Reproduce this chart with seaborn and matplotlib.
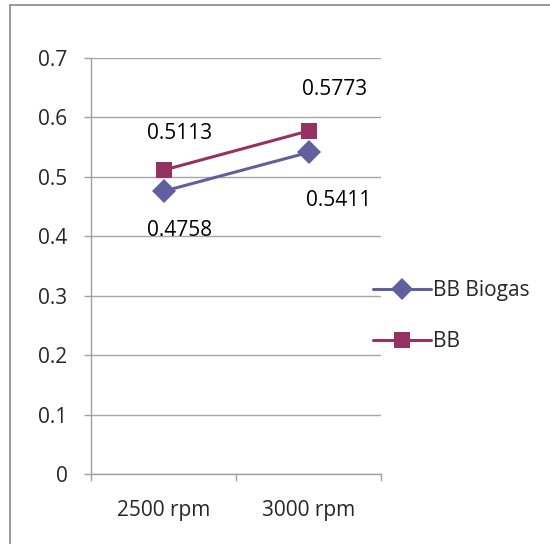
import matplotlib
matplotlib.use("Agg")
import matplotlib.pyplot as plt
import seaborn as sns
import pandas as pd
from matplotlib.lines import Line2D

categories = ["2500 rpm", "3000 rpm"]
bb_biogas = [0.4758, 0.5411]
bb = [0.5113, 0.5773]
series_names = ["BB Biogas", "BB"]
y_ticks = [0, 0.1, 0.2, 0.3, 0.4, 0.5, 0.6, 0.7]

df = pd.DataFrame({
    "rpm": categories * 2,
    "value": bb_biogas + bb,
    "series": [series_names[0]] * 2 + [series_names[1]] * 2,
})

sns.set_theme(style="white")
plt.rcParams['font.family'] = ['Open Sans', 'DejaVu Sans']

colors = {"BB Biogas": "#60609E", "BB": "#953262"}
markers = {"BB Biogas": "D", "BB": "s"}
FS = 15

fig = plt.figure(figsize=(5.5, 5.44), dpi=100)
ax = fig.add_axes([91/550, 1-474/544, (381-91)/550, (474-58)/544])

sns.lineplot(data=df, x="rpm", y="value", hue="series", style="series",
             palette=colors, markers=markers, dashes=False, markersize=12,
             linewidth=2.2, markeredgewidth=0, ax=ax, legend=False, sort=False)

ax.set_xlim(-0.5, 1.5)
ax.set_ylim(0, 0.7)
ax.set_yticks(y_ticks)
ax.set_yticklabels([f"{t:g}" for t in y_ticks], fontsize=FS)
ax.set_xticks([0, 1])
ax.set_xticklabels(categories, fontsize=FS)
ax.set_xticks([-0.5, 0.5, 1.5], minor=True)
ax.tick_params(axis="x", which="major", length=0, pad=19)
ax.tick_params(axis="x", which="minor", length=5, color="#A0A0A0", width=1, direction="out", bottom=True)
ax.tick_params(axis="y", length=5, color="#A0A0A0", width=1, direction="out", left=True, pad=12)
ax.yaxis.grid(True, color="#A6A6A6", linewidth=1)
ax.xaxis.grid(False)
for s in ["top", "right"]:
    ax.spines[s].set_visible(False)
for s in ["left", "bottom"]:
    ax.spines[s].set_color("#A0A0A0")
    ax.spines[s].set_linewidth(1)
ax.set_xlabel("")
ax.set_ylabel("")

# data labels
label_offsets = {
    (0, "BB Biogas"): (-12, -28),
    (1, "BB Biogas"): (-1.5, -34.5),
    (0, "BB"): (-12, 26.5),
    (1, "BB"): (-4.5, 29.5),
}
for name, vals in zip(series_names, [bb_biogas, bb]):
    for i, v in enumerate(vals):
        dx, dy = label_offsets[(i, name)]
        ax.annotate(f"{v:.4f}", xy=(i, v), xytext=(dx, dy), textcoords="offset points",
                    ha="left", va="center", fontsize=FS, color="black")

handles = [Line2D([0], [0], color=colors[n], marker=markers[n], markersize=11,
                  markeredgewidth=0, linewidth=2.2) for n in series_names]
fig.legend(handles, series_names, loc="center left", bbox_to_anchor=(354/550, 1-316/544),
           frameon=False, fontsize=FS, handlelength=2.8, handletextpad=0.1,
           labelspacing=1.45)

# outer border (left and top)
fig.add_artist(Line2D([10/550, 10/550], [0, 1-5/544], color="#888888", linewidth=1.2, transform=fig.transFigure))
fig.add_artist(Line2D([10/550, 1], [1-5/544, 1-5/544], color="#888888", linewidth=1.2, transform=fig.transFigure))

fig.savefig("out.png", dpi=100)
